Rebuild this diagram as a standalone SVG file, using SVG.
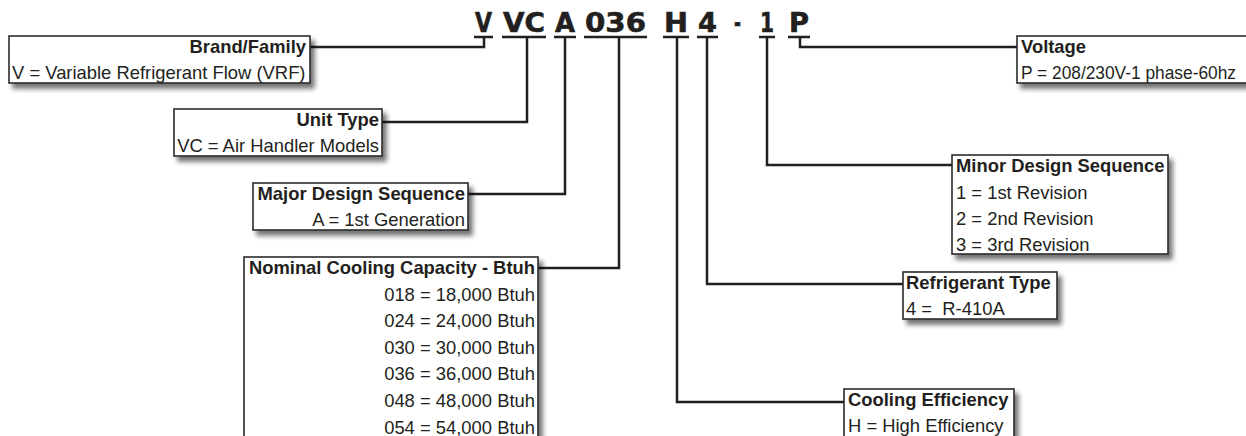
<svg xmlns="http://www.w3.org/2000/svg" width="1246" height="436" viewBox="0 0 1246 436">
<defs>
<filter id="sh" x="-10%" y="-20%" width="130%" height="160%">
<feGaussianBlur in="SourceAlpha" stdDeviation="2.5"/>
<feOffset dx="4" dy="5"/>
<feComponentTransfer><feFuncA type="linear" slope="0.55"/></feComponentTransfer>
<feMerge><feMergeNode/><feMergeNode in="SourceGraphic"/></feMerge>
</filter>
<style>
.box{fill:#fff;stroke:#2a2a2a;stroke-width:1.6;filter:url(#sh)}
.t{font-family:"Liberation Sans",Arial,sans-serif;font-size:18.4px;fill:#231f20}
.b{font-weight:bold}
.e{text-anchor:end}
.code{font-family:"DejaVu Sans",sans-serif;font-weight:bold;font-size:26px;fill:#231f20;stroke:#231f20;stroke-width:0.6}
.ul{stroke:#231f20;stroke-width:2.5}
.cn{fill:none;stroke:#231f20;stroke-width:2.5}
</style>
</defs>
<rect width="1246" height="436" fill="#fff"/>

<g id="code">
<text class="code" x="475" y="32" textLength="17" lengthAdjust="spacingAndGlyphs">V</text>
<text class="code" x="503" y="32" textLength="42" lengthAdjust="spacingAndGlyphs">VC</text>
<text class="code" x="555" y="32" textLength="20" lengthAdjust="spacingAndGlyphs">A</text>
<text class="code" x="585" y="32" textLength="61" lengthAdjust="spacingAndGlyphs">036</text>
<text class="code" x="664" y="32" textLength="24" lengthAdjust="spacingAndGlyphs">H</text>
<text class="code" x="698" y="32" textLength="19" lengthAdjust="spacingAndGlyphs">4</text>
<text class="code" x="734" y="32" textLength="7" lengthAdjust="spacingAndGlyphs">-</text>
<text class="code" x="760" y="32" textLength="14" lengthAdjust="spacingAndGlyphs">1</text>
<text class="code" x="789" y="32" textLength="20" lengthAdjust="spacingAndGlyphs">P</text>
<line class="ul" x1="474" y1="37" x2="493" y2="37"/>
<line class="ul" x1="502" y1="37" x2="546" y2="37"/>
<line class="ul" x1="554" y1="37" x2="576" y2="37"/>
<line class="ul" x1="584" y1="37" x2="647" y2="37"/>
<line class="ul" x1="663" y1="37" x2="689" y2="37"/>
<line class="ul" x1="697" y1="37" x2="718" y2="37"/>
<line class="ul" x1="759" y1="37" x2="775" y2="37"/>
<line class="ul" x1="788" y1="37" x2="810" y2="37"/>
</g>

<g id="connectors">
<polyline class="cn" points="484,37 484,47 310,47"/>
<polyline class="cn" points="527,37 527,122 382,122"/>
<polyline class="cn" points="565,37 565,194 468,194"/>
<polyline class="cn" points="619,37 619,268 538,268"/>
<polyline class="cn" points="677,37 677,402 844,402"/>
<polyline class="cn" points="707,37 707,284 903,284"/>
<polyline class="cn" points="767,37 767,165 952,165"/>
<polyline class="cn" points="800,37 800,47 1017,47"/>
</g>

<g id="brand">
<rect class="box" x="9" y="36" width="301" height="47"/>
<text class="t b e" x="306" y="53">Brand/Family</text>
<text class="t" x="12" y="79">V = Variable Refrigerant Flow (VRF)</text>
</g>

<g id="unit-type">
<rect class="box" x="174" y="109" width="208" height="47"/>
<text class="t b e" x="379" y="126">Unit Type</text>
<text class="t e" x="379" y="152">VC = Air Handler Models</text>
</g>

<g id="major-design">
<rect class="box" x="253" y="183" width="215" height="47"/>
<text class="t b e" x="465" y="200">Major Design Sequence</text>
<text class="t e" x="465" y="226">A = 1st Generation</text>
</g>

<g id="capacity">
<rect class="box" x="244" y="257" width="294" height="200"/>
<text class="t b e" x="535" y="274">Nominal Cooling Capacity - Btuh</text>
<text class="t e" x="535" y="300.6">018 = 18,000 Btuh</text>
<text class="t e" x="535" y="327.2">024 = 24,000 Btuh</text>
<text class="t e" x="535" y="353.8">030 = 30,000 Btuh</text>
<text class="t e" x="535" y="380.4">036 = 36,000 Btuh</text>
<text class="t e" x="535" y="407">048 = 48,000 Btuh</text>
<text class="t e" x="535" y="433.6">054 = 54,000 Btuh</text>
</g>

<g id="voltage">
<rect class="box" x="1017" y="36" width="260" height="47"/>
<text class="t b" x="1021" y="53">Voltage</text>
<text class="t" x="1021" y="79" textLength="215" lengthAdjust="spacingAndGlyphs">P = 208/230V-1 phase-60hz</text>
</g>

<g id="minor-design">
<rect class="box" x="952" y="155" width="216" height="99"/>
<text class="t b" x="956" y="172">Minor Design Sequence</text>
<text class="t" x="956" y="198.5">1 = 1st Revision</text>
<text class="t" x="956" y="225">2 = 2nd Revision</text>
<text class="t" x="956" y="251">3 = 3rd Revision</text>
</g>

<g id="refrigerant">
<rect class="box" x="903" y="272" width="154" height="47"/>
<text class="t b" x="906" y="289">Refrigerant Type</text>
<text class="t" x="906" y="315" xml:space="preserve">4 =  R-410A</text>
</g>

<g id="efficiency">
<rect class="box" x="844" y="389" width="170" height="70"/>
<text class="t b" x="848" y="406">Cooling Efficiency</text>
<text class="t" x="848" y="432">H = High Efficiency</text>
</g>
</svg>
